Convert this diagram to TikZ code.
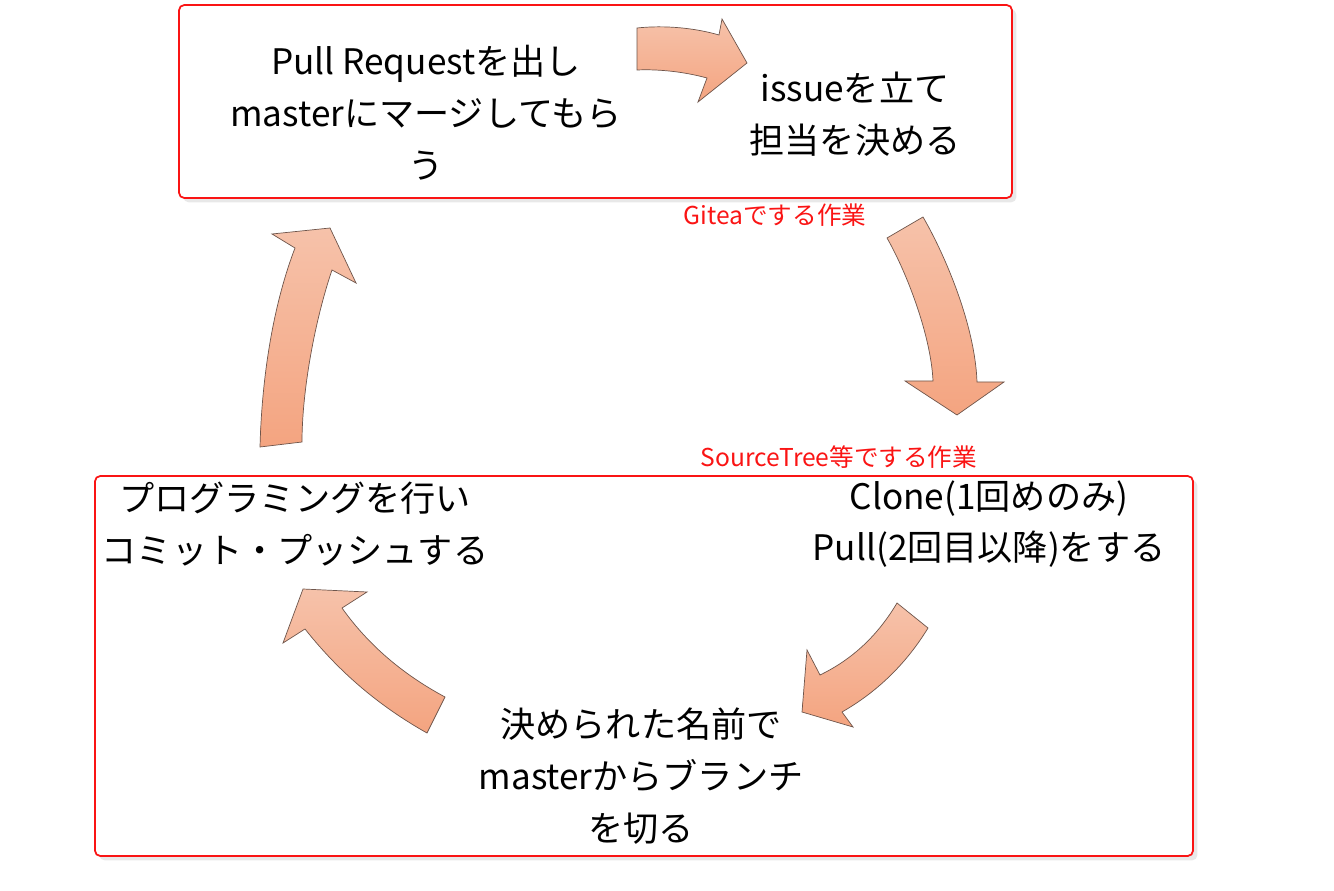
\documentclass[tikz,border=0pt]{standalone}
\usepackage{fontspec}
\setmainfont{Noto Sans CJK JP}
\usepackage{tikz}
\usetikzlibrary{positioning,shadows}
\definecolor{framered}{RGB}{250,20,20}
\definecolor{arrowtop}{RGB}{246,194,170}
\definecolor{arrowbot}{RGB}{244,164,128}
\definecolor{arrowline}{RGB}{110,85,75}
\tikzset{
	area/.style={draw=framered, line width=1pt, rounded corners=3pt, fill=white,
		drop shadow={shadow xshift=2.5pt, shadow yshift=-2.5pt, opacity=0.18}}, % red frame of each tool
	work/.style={align=center, font=\fontsize{20}{29.5}\selectfont, inner sep=0pt},
	toollabel/.style={text=framered, font=\fontsize{14}{16}\selectfont, inner sep=1pt},
	cyclearrow/.style={draw=arrowline, line width=0.4pt, top color=arrowtop, bottom color=arrowbot} % the fat curved arrows
}

\begin{document}
\begin{tikzpicture}[x=0.02cm, y=-0.02cm]
\useasboundingbox (0,0) rectangle (1334,891);
% frames
\draw[area] (179,5) rectangle (1012,198);
\draw[area] (95,476) rectangle (1193,856);
% steps
\node[work] (pullreq) at (426,113) {Pull Requestを出し\\masterにマージしてもら\\う};
\node[work] (issue) at (855,114) {issueを立て\\担当を決める};
\node[work] (clone) at (989,524) {Clone(1回めのみ)\\Pull(2回目以降)をする};
\node[work] (branch) at (641,776) {決められた名前で\\masterからブランチ\\を切る};
\node[work] (coding) at (295,524) {プログラミングを行い\\コミット・プッシュする};
% tool labels
\node[toollabel] (gitea) at (775,215) {Giteaでする作業};
\node[toollabel] (sourcetree) at (839,457) {SourceTree等でする作業};
% arrows of the cycle
\draw[cyclearrow] (637,28) .. controls (665,25) and (695,28) .. (719,35) -- (722,19) -- (747,63)
	-- (698,102) -- (707,78) .. controls (685,72) and (660,69) .. (637,70) -- cycle;
\draw[cyclearrow] (887,238) -- (923,217) .. controls (945,255) and (975,325) .. (977,382) -- (1004,382)
	-- (957,415) -- (905,381) -- (933,381) .. controls (931,336) and (907,273) .. (887,238) -- cycle;
\draw[cyclearrow] (897,603) -- (928,628) .. controls (906,664) and (877,692) .. (842,712) -- (853,727)
	-- (802,712) -- (807,650) -- (820,675) .. controls (853,659) and (878,635) .. (897,603) -- cycle;
\draw[cyclearrow] (427,733) -- (445,697) .. controls (404,675) and (369,646) .. (342,608) -- (367,592)
	-- (303,589) -- (283,643) -- (305,629) .. controls (339,672) and (379,706) .. (427,733) -- cycle;
\draw[cyclearrow] (260,447) -- (302,442) .. controls (302,390) and (315,320) .. (332,270) -- (356,283)
	-- (330,228) -- (272,234) -- (295,248) .. controls (275,300) and (262,370) .. (260,447) -- cycle;
\end{tikzpicture}
\end{document}
